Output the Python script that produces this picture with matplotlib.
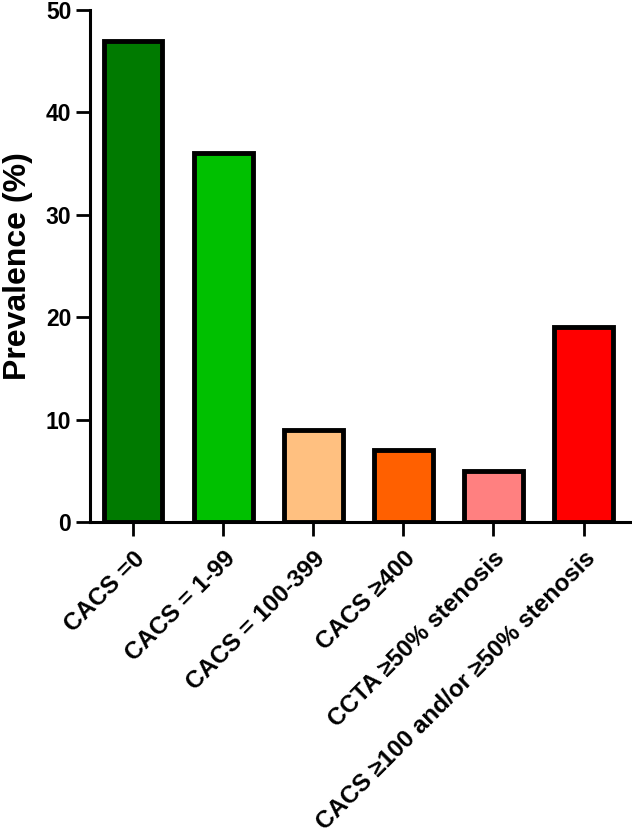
import matplotlib.pyplot as plt

plt.rcParams['font.family'] = ['Liberation Sans', 'DejaVu Sans']

categories = ["CACS =0", "CACS = 1-99", "CACS = 100-399", "CACS \u2265400",
              "CCTA \u226550% stenosis", "CACS \u2265100 and/or \u226550% stenosis"]
prevalence = [47, 36, 9, 7, 5, 19]
bar_colors = ["#007a00", "#00c000", "#ffc080", "#ff6000", "#ff8080", "#ff0000"]

fig = plt.figure(figsize=(6.32, 8.36), dpi=100)
ax = fig.add_axes([0.1424, 0.3756, 0.855, 0.6124])

x = range(len(categories))
ax.bar(x, prevalence, width=0.65, color=bar_colors, edgecolor='black', linewidth=3.5)

ax.set_xlim(-0.48, 5.52)
ax.set_ylim(0, 50)
ax.set_yticks([0, 10, 20, 30, 40, 50])
ax.set_xticks(list(x))
ax.set_xticklabels(categories, rotation=45, ha='right', rotation_mode='anchor',
                   fontsize=17.5, fontweight='bold')
for lab in ax.get_yticklabels():
    lab.set_fontsize(16.5)
    lab.set_fontweight('bold')

ax.set_ylabel("Prevalence (%)", fontsize=23, fontweight='bold')
ax.yaxis.set_label_coords(-0.105, 0.5)

for side in ['top', 'right']:
    ax.spines[side].set_visible(False)
for side in ['left', 'bottom']:
    ax.spines[side].set_linewidth(2.2)
ax.tick_params(axis='both', width=2, length=10, pad=3.5)
ax.tick_params(axis='x', pad=8)
ax.set_axisbelow(False)

fig.savefig("out.png", dpi=100)
